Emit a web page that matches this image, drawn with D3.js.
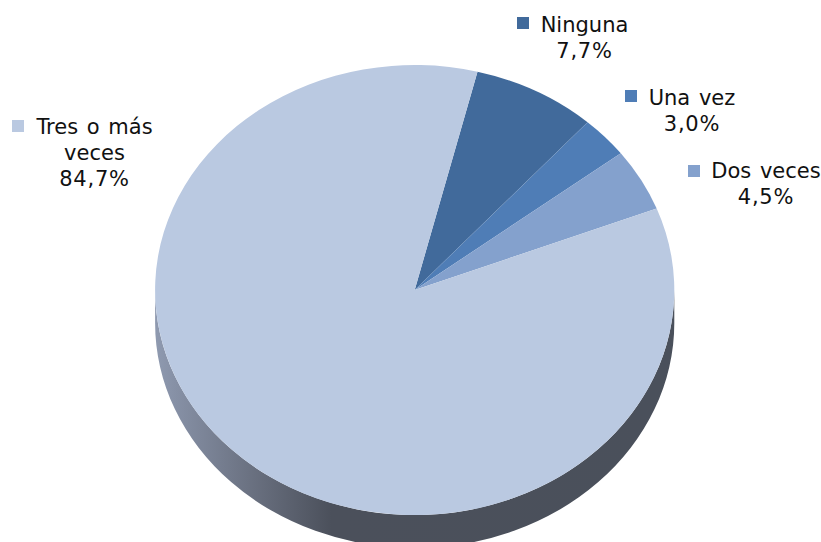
<!DOCTYPE html>
<html><head><meta charset="utf-8">
<script src="https://cdn.jsdelivr.net/npm/d3@7/dist/d3.min.js"></script>
<style>html,body{margin:0;padding:0;background:#fff;overflow:hidden}svg{display:block}text{font-family:"DejaVu Sans",sans-serif;font-size:21px;word-spacing:2px;fill:#111}.pct{letter-spacing:.8px}</style>
</head><body><div id="c"></div>
<script>
const categories=["Ninguna","Una vez","Dos veces","Tres o más veces"];
const values=[7.7,3.0,4.5,84.7];
const valueLabels=["7,7%","3,0%","4,5%","84,7%"];
const colors=["#416a9b","#4f7db6","#84a1cd","#bac9e1"];
const labelLines=[["Ninguna"],["Una vez"],["Dos veces"],["Tres o más","veces"]];
const labelCenters=[[584.5,32],[692,105],[766,178],[94.5,134]];
const keyPos=[[517,17],[625,90],[688,165],[12,120]];
const W=821,H=542,cx=414.7,cy=290,rx=259.6,ry=225,depth=33,startDeg=14.0;
const svg=d3.select("#c").append("svg").attr("width",W).attr("height",H);
const g=svg.append("defs").append("linearGradient").attr("id","wall").attr("gradientUnits","userSpaceOnUse")
 .attr("x1",cx-rx).attr("x2",cx+rx).attr("y1",0).attr("y2",0);
[[0,"#8f9ab0"],[0.04,"#8690a5"],[0.18,"#6b7282"],[0.34,"#4b505b"],[1,"#4a505b"]].forEach(s=>g.append("stop").attr("offset",s[0]).attr("stop-color",s[1]));
svg.append("path").attr("fill","url(#wall)").attr("d",
 `M${cx-rx},${cy}A${rx},${ry} 0 0 0 ${cx+rx},${cy}L${cx+rx},${cy+depth}A${rx},${ry} 0 0 1 ${cx-rx},${cy+depth}Z`);
const a0=startDeg*Math.PI/180;
const pie=d3.pie().sort(null).startAngle(a0).endAngle(a0+2*Math.PI);
const arc=d3.arc().innerRadius(0).outerRadius(rx);
svg.append("g").attr("transform",`translate(${cx},${cy}) scale(1,${ry/rx})`)
 .selectAll("path").data(pie(values)).join("path").attr("d",arc).attr("fill",(d,i)=>colors[i]);
categories.forEach((c,i)=>{
 svg.append("rect").attr("x",keyPos[i][0]).attr("y",keyPos[i][1]).attr("width",12).attr("height",12).attr("fill",colors[i]);
 const lines=labelLines[i].concat([valueLabels[i]]);
 const t=svg.append("text").attr("text-anchor","middle");
 lines.forEach((l,j)=>t.append("tspan").attr("x",labelCenters[i][0]).attr("y",labelCenters[i][1]+j*26).attr("class",j===lines.length-1?"pct":null).text(l));
});
</script></body></html>
